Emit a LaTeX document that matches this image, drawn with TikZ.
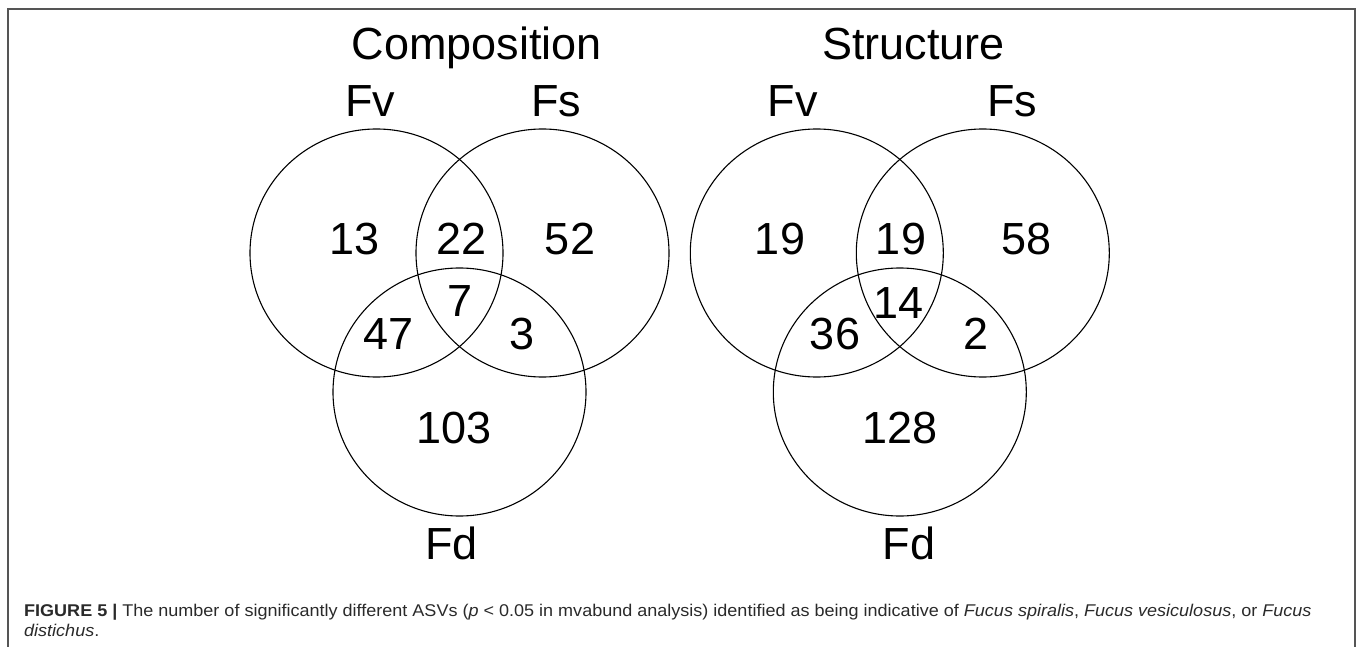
\documentclass[tikz,border=0pt]{standalone}
\usepackage{fontspec}
\setmainfont{Liberation Sans}
\usetikzlibrary{shapes.geometric}
\definecolor{framegray}{HTML}{555555}
\definecolor{captiongray}{HTML}{2A2A2A}
\tikzset{
  set/.style={ellipse, draw=black, line width=1.1bp, inner sep=0pt,
              minimum width=253bp, minimum height=248bp},
  bigtext/.style={anchor=base, inner sep=0pt,
                  font=\fontsize{45bp}{54bp}\selectfont},
  count/.style={bigtext},
  captionline/.style={anchor=base west, inner sep=0pt, text=captiongray,
                      font=\fontsize{17bp}{20bp}\selectfont}
}
\newcommand{\capwide}[1]{\scalebox{1.06}[1]{#1}}
\begin{document}
\begin{tikzpicture}[x=1bp, y=-1bp]
  \useasboundingbox (0,0) rectangle (1358,647);
  % open frame around the figure
  \draw[framegray, line width=1.6bp] (8,647) -- (8,9) -- (1355,9) -- (1355,647);

  % ---- Composition ----
  \node[bigtext] (tc) at (476.7,59.5) {Composition};
  \node[set] (cFv) at (376.5,253) {};
  \node[set] (cFs) at (542.5,253) {};
  \node[set] (cFd) at (459.5,392) {};
  \node[bigtext] (lcFv) at (370,116.7) {Fv};
  \node[bigtext] (lcFs) at (556,116.7) {Fs};
  \node[bigtext] (lcFd) at (451.7,559) {Fd};
  \node[count] (c1) at (355,254.3) {13};
  \node[count] (c2) at (461.7,254.3) {22};
  \node[count] (c3) at (570,254.3) {52};
  \node[count] (c4) at (460,316.7) {7};
  \node[count] (c5) at (389,349.5) {47};
  \node[count] (c6) at (521.7,349.5) {3};
  \node[count] (c7) at (454,443.3) {103};

  % ---- Structure ----
  \node[bigtext] (ts) at (913.3,59.5) {Structure};
  \node[set] (sFv) at (816.8,253) {};
  \node[set] (sFs) at (982.8,253) {};
  \node[set] (sFd) at (899.8,392) {};
  \node[bigtext] (lsFv) at (792.5,116.7) {Fv};
  \node[bigtext] (lsFs) at (1012,116.7) {Fs};
  \node[bigtext] (lsFd) at (909,559.5) {Fd};
  \node[count] (s1) at (780,254.3) {19};
  \node[count] (s2) at (901,254.3) {19};
  \node[count] (s3) at (1026.7,254.3) {58};
  \node[count] (s4) at (898.3,318.3) {14};
  \node[count] (s5) at (835,349.5) {36};
  \node[count] (s6) at (975.7,349.5) {2};
  \node[count] (s7) at (900,443.3) {128};

  % ---- caption ----
  \node[captionline] (cap1) at (24,616.7) {\capwide{\textbf{FIGURE 5 |} The number of significantly different ASVs (\textit{p} < 0.05 in mvabund analysis) identified as being indicative of \textit{Fucus spiralis}, \textit{Fucus vesiculosus}, or \textit{Fucus}}};
  \node[captionline] (cap2) at (24,636.7) {\capwide{\textit{distichus}.}};
\end{tikzpicture}
\end{document}
